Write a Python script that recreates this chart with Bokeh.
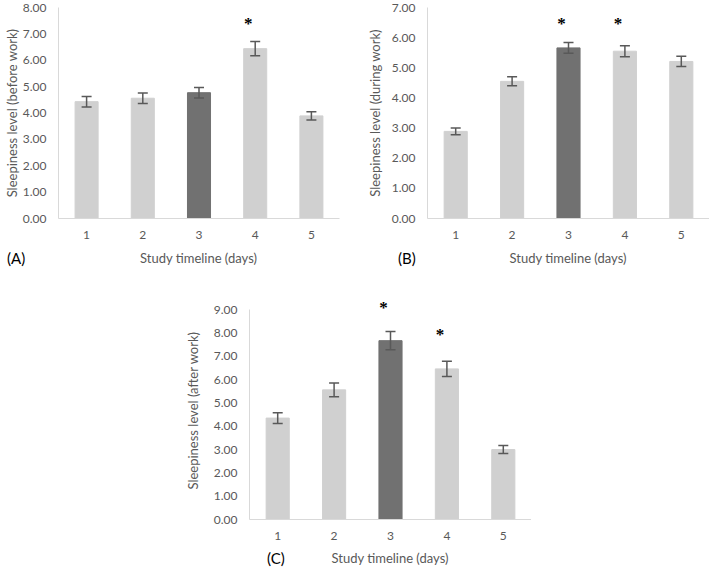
from bokeh.plotting import figure
from bokeh.models import (ColumnDataSource, Whisker, TeeHead, LabelSet,
                          FixedTicker, NumeralTickFormatter, Range1d, Spacer, Div)
from bokeh.layouts import column, row
from bokeh.embed import file_html
from bokeh.resources import INLINE

# ---- data ----
days = [1, 2, 3, 4, 5]
day_labels = ["1", "2", "3", "4", "5"]
highlight_day = 3
x_title = "Study timeline (days)"

before_mean = [4.43, 4.56, 4.77, 6.44, 3.89]
before_err = [0.20, 0.20, 0.20, 0.27, 0.16]
before_star_days = [4]
before_star_y = [7.40]

during_mean = [2.89, 4.55, 5.66, 5.55, 5.21]
during_err = [0.11, 0.15, 0.18, 0.18, 0.17]
during_star_days = [3, 4]
during_star_y = [6.48, 6.48]

after_mean = [4.35, 5.56, 7.67, 6.46, 3.00]
after_err = [0.23, 0.29, 0.39, 0.33, 0.17]
after_star_days = [3, 4]
after_star_y = [9.08, 7.94]

FONT = "Lato"
LIGHT = "#d0d0d0"
DARK = "#717171"
AXIS = "#d9d9d9"
TXT = "#595959"


def panel(means, errs, ymax, yend, ylabel, sdays, sy, width, height,
          bl, br, bt, bb, ystand, ylabstand):
    colors = [DARK if d == highlight_day else LIGHT for d in days]
    src = ColumnDataSource(dict(
        x=days, top=means, color=colors,
        upper=[m + e for m, e in zip(means, errs)],
        lower=[m - e for m, e in zip(means, errs)]))
    p = figure(width=width, height=height, output_backend="svg",
               toolbar_location=None, x_range=Range1d(0.5, 5.5),
               y_range=Range1d(0, yend),
               min_border_left=bl, min_border_right=br,
               min_border_top=bt, min_border_bottom=bb)
    p.vbar(x="x", top="top", width=0.41, color="color", source=src)
    w = Whisker(base="x", upper="upper", lower="lower", source=src,
                line_color=TXT, line_width=1.5, level="overlay",
                upper_head=TeeHead(size=10, line_color=TXT, line_width=1.5),
                lower_head=TeeHead(size=10, line_color=TXT, line_width=1.5))
    p.add_layout(w)
    ssrc = ColumnDataSource(dict(x=sdays, y=sy, t=["*"] * len(sdays)))
    p.add_layout(LabelSet(x="x", y="y", text="t", source=ssrc, x_offset=-7,
                          text_align="center", text_baseline="middle",
                          text_font=FONT, text_font_size="17px",
                          text_font_style="bold", text_color="#000000"))
    p.xgrid.visible = False
    p.ygrid.visible = False
    p.outline_line_color = None
    p.xaxis.ticker = FixedTicker(ticks=days)
    p.xaxis.major_label_overrides = {d: s for d, s in zip(days, day_labels)}
    p.yaxis.ticker = FixedTicker(ticks=list(range(0, int(ymax) + 1)))
    p.yaxis.formatter = NumeralTickFormatter(format="0.00")
    p.yaxis.bounds = (0, ymax)
    for ax in (p.xaxis, p.yaxis):
        ax.axis_line_color = AXIS
        ax.axis_line_width = 1
        ax.major_tick_line_color = None
        ax.minor_tick_line_color = None
        ax.major_tick_out = 0
        ax.major_tick_in = 0
        ax.minor_tick_out = 0
        ax.minor_tick_in = 0
        ax.major_label_text_font = FONT
        ax.major_label_text_font_size = "12px"
        ax.major_label_text_color = TXT
    p.xaxis.major_label_standoff = 12
    p.yaxis.axis_label = ylabel
    p.yaxis.axis_label_text_font = FONT
    p.yaxis.axis_label_text_font_style = "normal"
    p.yaxis.axis_label_text_color = TXT
    p.yaxis.axis_label_text_font_size = "13px"
    p.yaxis.major_label_standoff = ystand
    p.yaxis.axis_label_standoff = ylabstand
    return p


def txt(text, width, height, size, color, align):
    return Div(text=text, width=width, height=height, margin=0,
               styles={"font-family": FONT, "font-size": size,
                       "line-height": f"{height}px", "color": color,
                       "text-align": align, "white-space": "nowrap"})


pa = panel(before_mean, before_err, 8, 8, "Sleepiness level (before work)",
           before_star_days, before_star_y, width=353, height=246,
           bl=58, br=14, bt=7, bb=28, ystand=12, ylabstand=0)
pb = panel(during_mean, during_err, 7, 7, "Sleepiness level (during work)",
           during_star_days, during_star_y, width=356, height=246,
           bl=74, br=0, bt=7, bb=28, ystand=12, ylabstand=6)
pc = panel(after_mean, after_err, 9, 9.35, "Sleepiness level (after work)",
           after_star_days, after_star_y, width=351, height=277,
           bl=69, br=0, bt=31, bb=28, ystand=12, ylabstand=10)

top_titles = row(
    Spacer(width=7, height=24, margin=0),
    txt("(A)", 40, 24, "15px", "#000000", "left"),
    txt(x_title, 303, 24, "13px", TXT, "center"),
    Spacer(width=48, height=24, margin=0),
    txt("(B)", 30, 24, "15px", "#000000", "left"),
    txt(x_title, 280, 24, "13px", TXT, "center"),
)
bottom_titles = row(
    Spacer(width=267, height=22, margin=0),
    txt("(C)", 30, 22, "15px", "#000000", "left"),
    txt(x_title, 186, 22, "13px", TXT, "center"),
)

layout = column(row(pa, pb), top_titles,
                row(Spacer(width=180, height=277, margin=0), pc), bottom_titles)
open("out.html", "w").write(file_html(layout, INLINE))
